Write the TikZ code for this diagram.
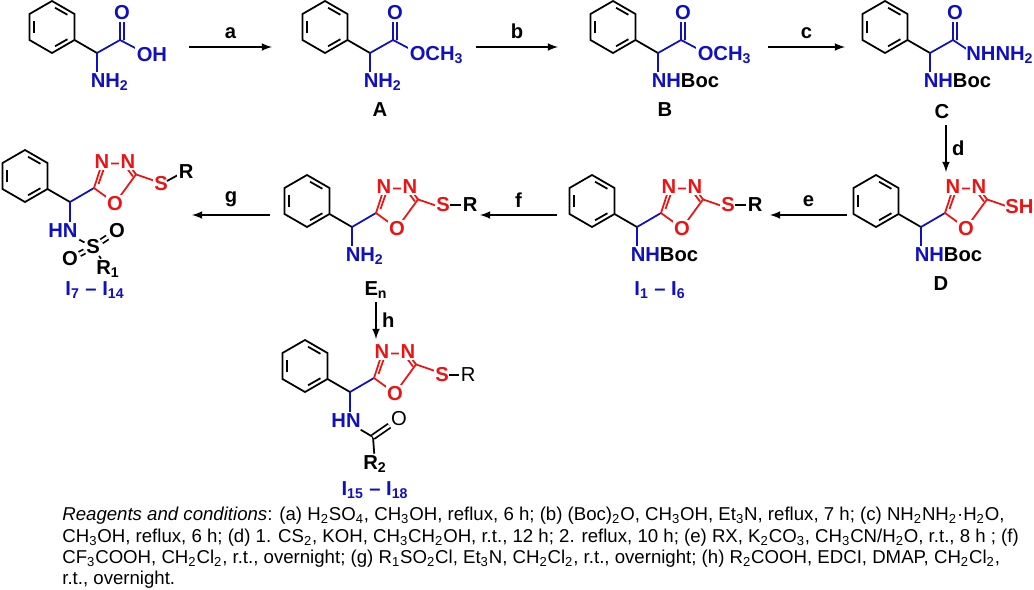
\documentclass[tikz,border=0pt]{standalone}
\usepackage{fontspec}
\setsansfont{Liberation Sans}
\setmainfont{Liberation Sans}
\usetikzlibrary{calc}
\definecolor{cblue}{RGB}{16,16,190}
\definecolor{cred}{RGB}{235,20,20}
\tikzset{
  atom/.style={font=\sffamily\bfseries\fontsize{11.5}{13}\selectfont, inner sep=0.8pt, fill=white},
  lab/.style={font=\sffamily\bfseries\fontsize{11.5}{13}\selectfont, inner sep=1pt},
  bond/.style={line width=1pt},
  rxn/.style={line width=1pt, -latex},
}
% phenyl ring, CH at local origin
\newcommand\phch{%
  \draw[bond] (0,0) -- (-22.5,-13) -- (-22.5,-39) -- (-45,-52) -- (-67.5,-39)
    -- (-67.5,-13) -- (-45,0) -- (-22.5,-13);
  \draw[bond, shorten <=2pt, shorten >=2pt] (-63,-16) -- (-63,-36);
  \draw[bond, shorten <=2pt, shorten >=2pt] (-45,-47) -- (-26.5,-36.5);
  \draw[bond, shorten <=2pt, shorten >=2pt] (-26.5,-15.5) -- (-45,-5);
}
% amine substituent below the CH
\newcommand\amine[1]{%
  \draw[bond, cblue] (0,0) -- (0,21);
  \node[atom, anchor=north west, text=cblue] at (-8,19) {#1};
}
% 1,3,4-oxadiazole with S at C2
\newcommand\oxa[1]{%
  \draw[bond, cblue] (0,0) -- (24,-14);
  \draw[bond, cred] (24,-14) -- (32,-38.6) -- (57.9,-38.6) -- (66,-27.6) -- (45,1.2) -- cycle;
  \draw[bond, cred] (28.5,-18) -- (34.5,-35);
  \draw[bond, cred] (57.5,-33) -- (63,-25.5);
  \draw[bond, cred] (66,-27.6) -- (88,-20);
  \node[atom, text=cred] at (32,-40) {N};
  \node[atom, text=cred] at (58,-40) {N};
  \node[atom, text=cred] at (45,2) {O};
  #1
}
\begin{document}
\begin{tikzpicture}[x=0.02cm, y=-0.02cm]
\useasboundingbox (0,0) rectangle (1034,589);

% row 1
\begin{scope}[shift={(97,53)}]
  \phch \amine{NH\textsubscript{2}}
  \draw[bond, cblue] (0,0) -- (23,-13) -- (23,-36) (27,-13) -- (27,-36) (23,-13) -- (42,-3);
  \node[atom, text=cblue] at (25,-40) {O};
  \node[atom, text=cblue, anchor=west] at (38,2) {OH};
\end{scope}
\begin{scope}[shift={(370,53)}]
  \phch \amine{NH\textsubscript{2}}
  \draw[bond, cblue] (0,0) -- (23,-13) -- (23,-36) (27,-13) -- (27,-36) (23,-13) -- (42,-3);
  \node[atom, text=cblue] at (25,-40) {O};
  \node[atom, text=cblue, anchor=west] at (38,2) {OCH\textsubscript{3}};
\end{scope}
\begin{scope}[shift={(658,53)}]
  \phch \amine{NH\textcolor{black}{Boc}}
  \draw[bond, cblue] (0,0) -- (23,-13) -- (23,-36) (27,-13) -- (27,-36) (23,-13) -- (42,-3);
  \node[atom, text=cblue] at (25,-40) {O};
  \node[atom, text=cblue, anchor=west] at (38,2) {OCH\textsubscript{3}};
\end{scope}
\begin{scope}[shift={(930,53)}]
  \phch \amine{NH\textcolor{black}{Boc}}
  \draw[bond, cblue] (0,0) -- (23,-13) -- (23,-36) (27,-13) -- (27,-36) (23,-13) -- (38,-3);
  \node[atom, text=cblue] at (25,-40) {O};
  \node[atom, text=cblue, anchor=west, inner sep=0pt] at (36,2) {NHNH\textsubscript{2}};
\end{scope}
\node[lab] (lA) at (380,110) {A};
\node[lab] (lB) at (665,110) {B};
\node[lab] (lC) at (942,112) {C};

% row 2
\begin{scope}[shift={(921,227)}]
  \phch \amine{NH\textcolor{black}{Boc}}
  \oxa{\node[atom, text=cred, anchor=west, inner sep=0pt] at (84,-20) {SH};}
\end{scope}
\begin{scope}[shift={(637,227)}]
  \phch \amine{NH\textcolor{black}{Boc}}
  \oxa{\node[atom, text=cred] at (91,-22) {S};
       \draw[bond] (98,-22) -- (110,-22);
       \node[atom, anchor=west] at (109,-22) {R};}
\end{scope}
\begin{scope}[shift={(352,227)}]
  \phch \amine{NH\textsubscript{2}}
  \oxa{\node[atom, text=cred] at (91,-22) {S};
       \draw[bond] (98,-22) -- (110,-22);
       \node[atom, anchor=west] at (109,-22) {R};}
\end{scope}
\begin{scope}[shift={(70,202)}]
  \phch
  \oxa{\node[atom, text=cred] at (91,-18) {S};
       \draw[bond] (97,-21) -- (108,-27);
       \node[atom, anchor=west] at (107,-30) {R};}
  \draw[bond, cblue] (0,0) -- (0,20);
  \node[atom, text=cblue] (hn1) at (-7,29) {HN};
  \node[atom] (s1) at (23,45) {S};
  \node[atom] (o1) at (47,29) {O};
  \node[atom] (o2) at (0,57) {O};
  \node[atom] (r1) at (38,67) {R\textsubscript{1}};
  \draw[bond] (hn1) -- (s1) -- (r1);
  \draw[bond, double, double distance=1.6pt] (s1) -- (o1);
  \draw[bond, double, double distance=1.6pt] (s1) -- (o2);
\end{scope}
\begin{scope}[shift={(350,392)}]
  \phch
  \oxa{\node[atom, text=cred] at (92,-17) {S};
       \draw[bond] (99,-17) -- (110,-17);
       \node[atom, anchor=west, font=\sffamily\fontsize{11.5}{13}\selectfont] at (109,-17) {R};}
  \draw[bond, cblue] (0,0) -- (0,20);
  \node[atom, text=cblue] (hn2) at (-4,29) {HN};
  \coordinate (co) at (23,45);
  \node[atom, font=\sffamily\fontsize{11.5}{13}\selectfont] (o3) at (49,27) {O};
  \node[atom] (r2) at (25,72) {R\textsubscript{2}};
  \draw[bond] (hn2) -- (co) -- (r2);
  \draw[bond, double, double distance=1.6pt] (co) -- (o3);
\end{scope}
\node[lab] (lD) at (941,284) {D};
\node[lab, text=cblue] (lI1) at (660,290) {I\textsubscript{1} -- I\textsubscript{6}};
\node[lab] (lE) at (376,290) {E\textsubscript{n}};
\node[lab, text=cblue] (lI7) at (95,290) {I\textsubscript{7} -- I\textsubscript{14}};
\node[lab, text=cblue] (lI15) at (375,490) {I\textsubscript{15} -- I\textsubscript{18}};

% reaction arrows
\draw[rxn] (189,47) -- node[lab, above=3pt] {a} (272,47);
\draw[rxn] (476,47) -- node[lab, above=3pt] {b} (558,47);
\draw[rxn] (768,47) -- node[lab, above=3pt] {c} (845,47);
\draw[rxn] (946,125) -- node[lab, right=2pt] {d} (946,172);
\draw[rxn] (847,215) -- node[lab, above=3pt] {e} (770,215);
\draw[rxn] (557,215) -- node[lab, above=3pt] {f} (480,215);
\draw[rxn] (270,215) -- node[lab, above=3pt] {g} (192,215);
\draw[rxn] (376,302) -- node[lab, right=2pt] {h} (376,339);

% conditions
\node[anchor=north west, align=left, inner sep=0pt,
  font=\sffamily\fontsize{10.6}{12.1}\selectfont] (cond) at (62,507) {%
\textit{Reagents and conditions}: (a) H\textsubscript{2}SO\textsubscript{4}, CH\textsubscript{3}OH, reflux, 6 h; (b) (Boc)\textsubscript{2}O, CH\textsubscript{3}OH, Et\textsubscript{3}N, reflux, 7 h; (c) NH\textsubscript{2}NH\textsubscript{2}·H\textsubscript{2}O,\\
CH\textsubscript{3}OH, reflux, 6 h; (d) 1. CS\textsubscript{2}, KOH, CH\textsubscript{3}CH\textsubscript{2}OH, r.t., 12 h; 2. reflux, 10 h; (e) RX, K\textsubscript{2}CO\textsubscript{3}, CH\textsubscript{3}CN/H\textsubscript{2}O, r.t., 8 h ; (f)\\
CF\textsubscript{3}COOH, CH\textsubscript{2}Cl\textsubscript{2}, r.t., overnight; (g) R\textsubscript{1}SO\textsubscript{2}Cl, Et\textsubscript{3}N, CH\textsubscript{2}Cl\textsubscript{2}, r.t., overnight; (h) R\textsubscript{2}COOH, EDCI, DMAP, CH\textsubscript{2}Cl\textsubscript{2},\\
r.t., overnight.};
\end{tikzpicture}
\end{document}
